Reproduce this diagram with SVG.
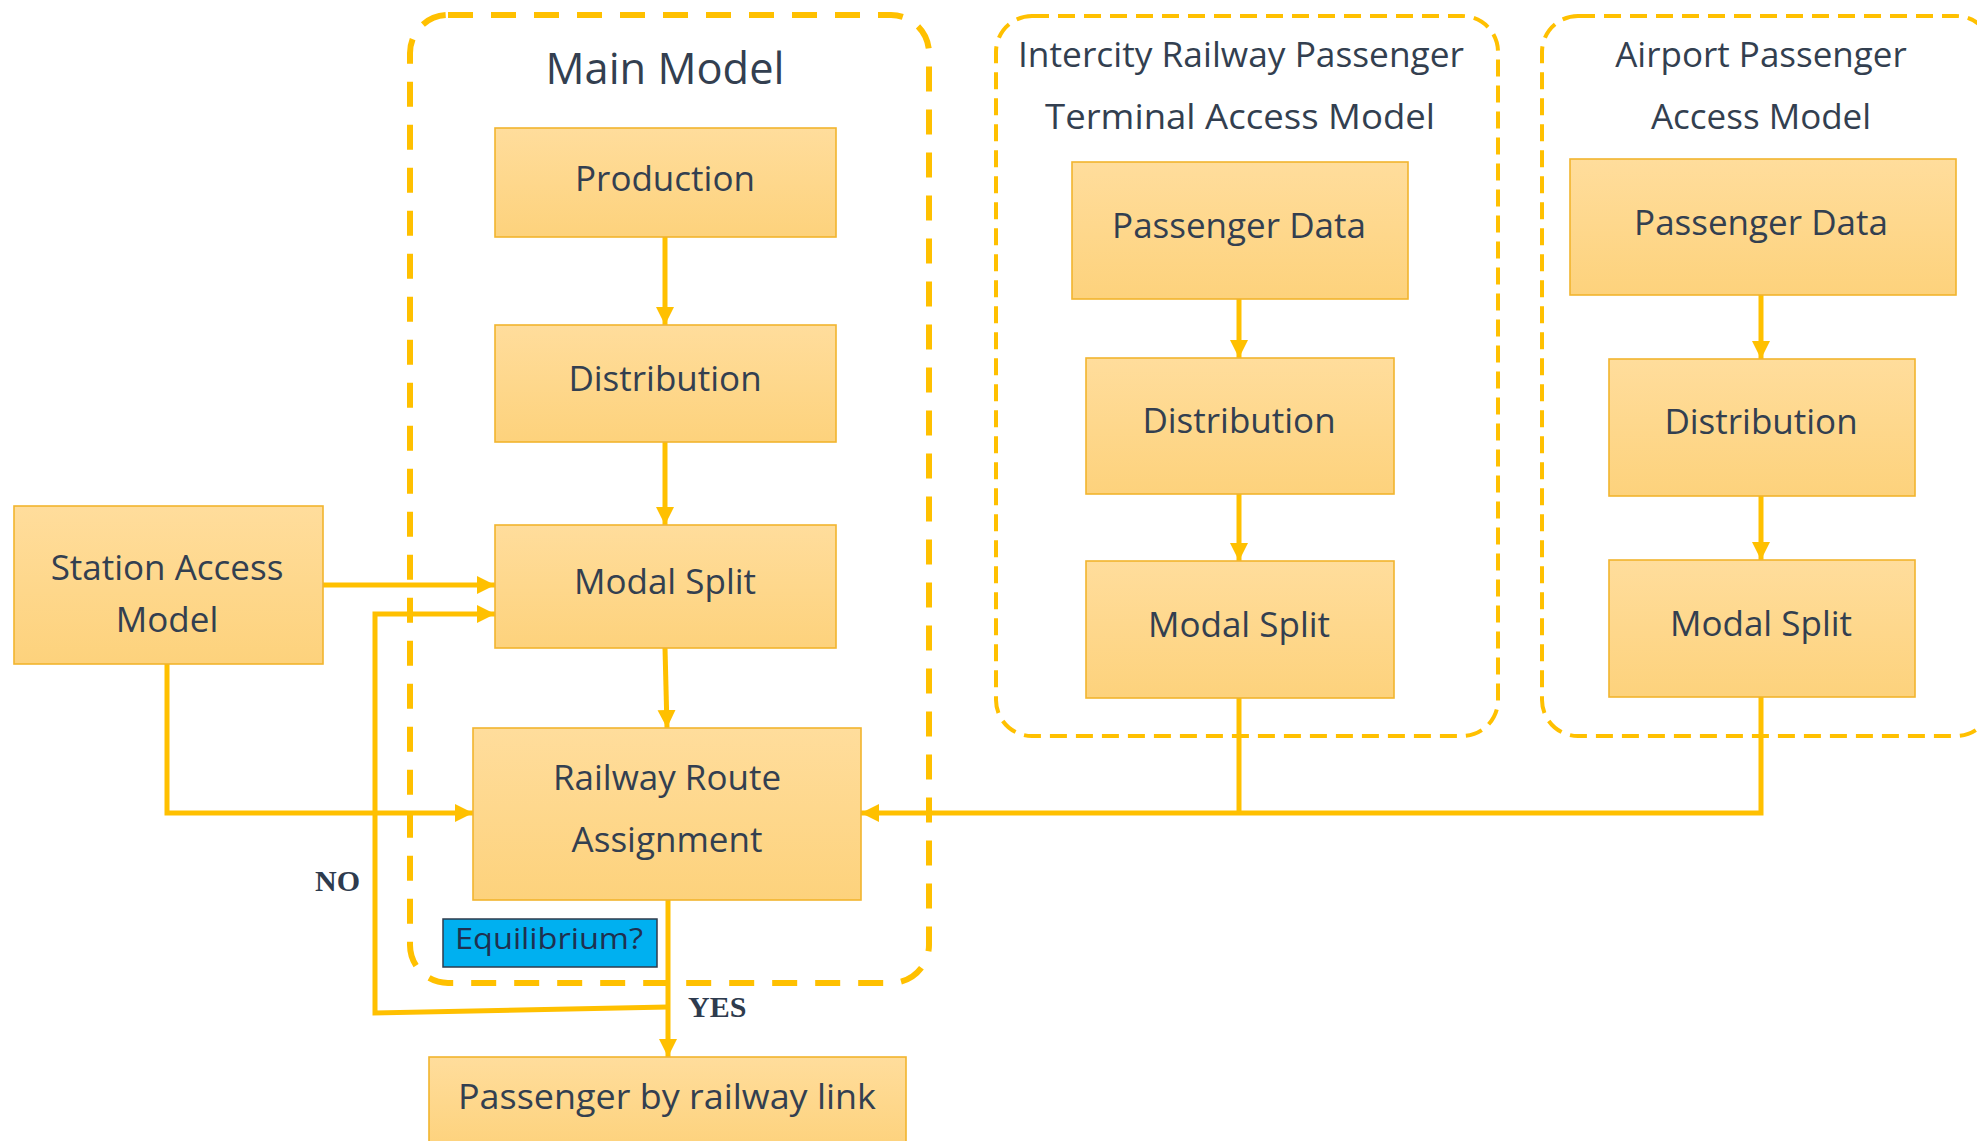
<svg xmlns="http://www.w3.org/2000/svg" width="1977" height="1141" viewBox="0 0 1977 1141">
<style>
.box{fill:url(#g);stroke:#F2B52E;stroke-width:1.6}
.t{font-family:"Open Sans","Liberation Sans",sans-serif;font-size:35px;fill:#333F50;text-anchor:middle}
.ttl{font-family:"Open Sans","Liberation Sans",sans-serif;font-size:35px;fill:#333F50;text-anchor:middle}
.c{fill:none;stroke:#FFC000;stroke-width:5}
.yn{font-family:"Liberation Serif",serif;font-weight:bold;font-size:30px;fill:#2E3B4E}
</style>
<defs>
<linearGradient id="g" x1="0" y1="0" x2="0" y2="1">
<stop offset="0" stop-color="#FFDD9C"/>
<stop offset="1" stop-color="#FDD27C"/>
</linearGradient>
<marker id="a" markerUnits="userSpaceOnUse" markerWidth="20" markerHeight="20" refX="18" refY="9" orient="auto">
<path d="M0,0 L18,9 L0,18 z" fill="#FFC000"/>
</marker>
</defs>
<rect width="1977" height="1141" fill="#FFFFFF"/>

<g id="main-model">
<rect x="410" y="15" width="519" height="968" rx="38" ry="38" fill="none" stroke="#FFC000" stroke-width="6" stroke-dasharray="25 18"/>
<text x="665" y="84" class="t" style="font-size:43px" textLength="239" lengthAdjust="spacingAndGlyphs">Main Model</text>
</g>
<g id="intercity-model">
<rect x="996" y="16" width="502" height="720" rx="36" ry="36" fill="none" stroke="#FFC000" stroke-width="4" stroke-dasharray="17 9"/>
<text x="1241" y="67" class="ttl" textLength="446" lengthAdjust="spacingAndGlyphs">Intercity Railway Passenger</text>
<text x="1240" y="129" class="ttl" textLength="390" lengthAdjust="spacingAndGlyphs">Terminal Access Model</text>
</g>
<g id="airport-model">
<rect x="1542" y="16" width="450" height="720" rx="36" ry="36" fill="none" stroke="#FFC000" stroke-width="4" stroke-dasharray="17 9"/>
<text x="1761" y="67" class="ttl">Airport Passenger</text>
<text x="1761" y="129" class="ttl">Access Model</text>
</g>

<g id="connectors">
<path class="c" d="M665,237 L665,325" marker-end="url(#a)"/>
<path class="c" d="M665,442 L665,525" marker-end="url(#a)"/>
<path class="c" d="M665,648 L667,728" marker-end="url(#a)"/>
<path class="c" d="M668,900 L668,1057" marker-end="url(#a)"/>
<path class="c" d="M668,1007 L375,1013 L375,614 L495,614" marker-end="url(#a)"/>
<path class="c" d="M323,585 L495,585" marker-end="url(#a)"/>
<path class="c" d="M167,664 L167,813 L473,813" marker-end="url(#a)"/>
<path class="c" d="M1239,698 L1239,813"/>
<path class="c" d="M1761,697 L1761,813 L861,813" marker-end="url(#a)"/>
<path class="c" d="M1239,299 L1239,358" marker-end="url(#a)"/>
<path class="c" d="M1239,494 L1239,561" marker-end="url(#a)"/>
<path class="c" d="M1761,295 L1761,359" marker-end="url(#a)"/>
<path class="c" d="M1761,496 L1761,560" marker-end="url(#a)"/>
</g>

<g id="production">
<rect class="box" x="495" y="128" width="341" height="109"/>
<text x="665" y="191" class="t">Production</text>
</g>
<g id="distribution-main">
<rect class="box" x="495" y="325" width="341" height="117"/>
<text x="665" y="391" class="t">Distribution</text>
</g>
<g id="modal-split-main">
<rect class="box" x="495" y="525" width="341" height="123"/>
<text x="665" y="594" class="t">Modal Split</text>
</g>
<g id="station-access">
<rect class="box" x="14" y="506" width="309" height="158"/>
<text x="167" y="580" class="t">Station Access</text>
<text x="167" y="632" class="t">Model</text>
</g>
<g id="railway-route-assignment">
<rect class="box" x="473" y="728" width="388" height="172"/>
<text x="667" y="790" class="t">Railway Route</text>
<text x="667" y="852" class="t">Assignment</text>
</g>
<g id="equilibrium">
<rect x="443" y="919" width="214" height="48" fill="#00B0F0" stroke="#2F3B4C" stroke-width="1.5"/>
<text x="455" y="949" style="font-family:'Open Sans','Liberation Sans',sans-serif;font-size:30px;fill:#1F3050" textLength="188" lengthAdjust="spacingAndGlyphs">Equilibrium?</text>
</g>
<g id="passenger-link">
<rect class="box" x="429" y="1057" width="477" height="92"/>
<text x="667" y="1109" class="t" textLength="418" lengthAdjust="spacingAndGlyphs">Passenger by railway link</text>
</g>
<g id="intercity-passenger-data">
<rect class="box" x="1072" y="162" width="336" height="137"/>
<text x="1239" y="238" class="t">Passenger Data</text>
</g>
<g id="intercity-distribution">
<rect class="box" x="1086" y="358" width="308" height="136"/>
<text x="1239" y="433" class="t">Distribution</text>
</g>
<g id="intercity-modal-split">
<rect class="box" x="1086" y="561" width="308" height="137"/>
<text x="1239" y="637" class="t">Modal Split</text>
</g>
<g id="airport-passenger-data">
<rect class="box" x="1570" y="159" width="386" height="136"/>
<text x="1761" y="235" class="t">Passenger Data</text>
</g>
<g id="airport-distribution">
<rect class="box" x="1609" y="359" width="306" height="137"/>
<text x="1761" y="434" class="t">Distribution</text>
</g>
<g id="airport-modal-split">
<rect class="box" x="1609" y="560" width="306" height="137"/>
<text x="1761" y="636" class="t">Modal Split</text>
</g>

<g id="labels">
<text x="315" y="891" class="yn">NO</text>
<text x="688" y="1017" class="yn">YES</text>
</g>
</svg>
